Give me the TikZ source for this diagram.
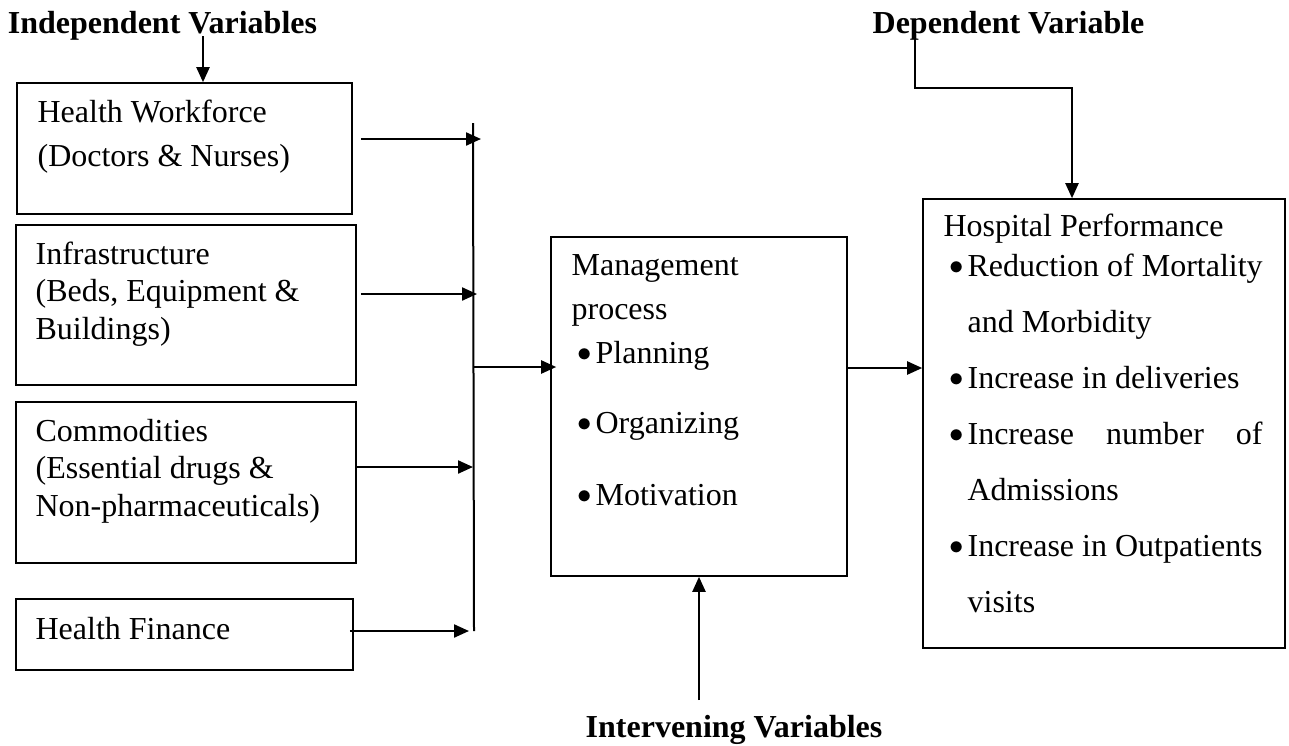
\documentclass[tikz,border=0pt]{standalone}
\usepackage{fontspec}
\setmainfont{Liberation Serif}
\usetikzlibrary{arrows.meta,fit,positioning}

\newcommand{\blt}{\hspace*{3pt}\makebox[9pt][l]{\raisebox{0.8pt}{\fontsize{13.5pt}{14pt}\selectfont$\bullet$}}}
\newcommand{\hang}{\hspace*{12pt}}

\tikzset{
  box/.style={draw, line width=0.8pt, inner sep=0pt},
  txt/.style={anchor=base west, inner sep=0pt, align=flush left, text width=#1,
    font=\fontsize{16pt}{22pt}\selectfont},
  lbl/.style={anchor=base, inner sep=0pt, font=\bfseries\fontsize{16pt}{19pt}\selectfont},
  arr/.style={line width=1.1pt, -{Triangle[length=7.5pt,width=6.5pt]}},
  bus/.style={line width=1pt}
}

\begin{document}
\begin{tikzpicture}[x=0.5pt, y=-0.5pt]
    \useasboundingbox (0,0) rectangle (1289,745);

    % Headings
    \node[lbl] (indep) at (162.5,33) {Independent Variables};
    \node[lbl] (dep) at (1008.5,33) {Dependent Variable};
    \node[lbl] (interv) at (734,737) {Intervening Variables};

    % Independent variables
    \node[box, fit={(17,83) (352,214)}] (hw) {};
    \node[box, fit={(16,225) (356,385)}] (infra) {};
    \node[box, fit={(16,402) (356,563)}] (comm) {};
    \node[box, fit={(16,599) (353,670)}] (fin) {};
    \node[txt=160pt] (hwtext) at ([shift={(21,40)}]hw.north west)
        {Health Workforce\\(Doctors \& Nurses)};
    \node[txt=160pt, font=\fontsize{16pt}{18.75pt}\selectfont] (infratext) at ([shift={(20,40)}]infra.north west)
        {Infrastructure\\(Beds, Equipment \&\\Buildings)};
    \node[txt=160pt, font=\fontsize{16pt}{18.75pt}\selectfont] (commtext) at ([shift={(20,40)}]comm.north west)
        {Commodities\\(Essential drugs \&\\Non-pharmaceuticals)};
    \node[txt=160pt] (fintext) at ([shift={(20,41)}]fin.north west) {Health Finance};

    % Management process
    \node[box, fit={(551,237) (847,576)}] (mgmt) {};
    \node[txt=140pt] (mgmttext) at ([shift={(21,39)}]mgmt.north west)
        {Management\\process\\\blt Planning\\[13pt]\blt Organizing\\[14pt]\blt Motivation};

    % Hospital performance
    \node[box, fit={(923,199) (1285,648)}] (hosp) {};
    \node[txt=170pt, font=\fontsize{16pt}{28pt}\selectfont] (hosptext) at ([shift={(21,38)}]hosp.north west)
        {Hospital Performance\\[-8pt]
         \blt Reduction of Mortality\\
         \hang and Morbidity\\
         \blt Increase in deliveries\\
         \blt\makebox[147.5pt][s]{Increase number of}\\
         \hang Admissions\\
         \blt Increase in Outpatients\\
         \hang visits};

    % Bus line
    \coordinate (bustop) at (473,123);
    \coordinate (busbot) at (474,631);
    \draw[bus] (bustop) -- (busbot);
    \draw[arr] ([shift={(8,-9.5)}]hw.east) -- ([shift={(8,-9.5)}]hw.east -| bustop);
    \draw[arr] ([shift={(4,-11)}]infra.east) -- ([shift={(4,-11)}]infra.east -| bustop);
    \draw[arr] ([shift={(0,-15.5)}]comm.east) -- ([shift={(0,-15.5)}]comm.east -| bustop);
    \draw[arr] ([shift={(-4,-3.5)}]fin.east) -- ([shift={(-4,-3.5)}]fin.east -| bustop);
    \draw[arr] ([shift={(0,-39.5)}]mgmt.west -| bustop) -- ([shift={(6,-39.5)}]mgmt.west);

    % Flow to outcome
    \draw[arr] ([shift={(0,-38.5)}]mgmt.east) -- ([shift={(0,-38.5)}]mgmt.east -| hosp.west);

    % Heading arrows
    \draw[arr] ([shift={(40.5,3)}]indep.base) -- ([shift={(40.5,0)}]indep.base |- hw.north);
    \draw[arr] ([shift={(-93.5,5)}]dep.base) |- ([shift={(-32,-110)}]hosp.north) -- ([shift={(-32,0)}]hosp.north);
    \draw[arr] ([shift={(-35,-37)}]interv.base) -- (mgmt.south);
\end{tikzpicture}
\end{document}
